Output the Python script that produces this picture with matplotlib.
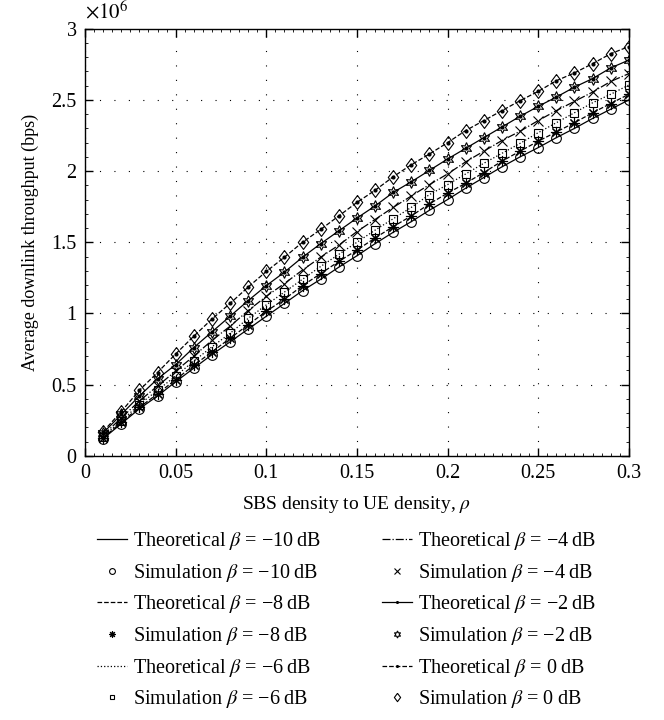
import numpy as np
import matplotlib.pyplot as plt
from matplotlib.ticker import MultipleLocator, FuncFormatter

plt.rcParams['font.family'] = ['Liberation Serif', 'DejaVu Serif']
plt.rcParams['mathtext.fontset'] = 'stix'

# SBS density to UE density
rho = np.array([0.01, 0.02, 0.03, 0.04, 0.05, 0.06, 0.07, 0.08, 0.09, 0.10,
                0.11, 0.12, 0.13, 0.14, 0.15, 0.16, 0.17, 0.18, 0.19, 0.20,
                0.21, 0.22, 0.23, 0.24, 0.25, 0.26, 0.27, 0.28, 0.29, 0.30])

# Average downlink throughput (x 10^6 bps), one series per beta
thr_m10 = [0.12, 0.225, 0.33, 0.42, 0.52, 0.615, 0.71, 0.80, 0.89, 0.98,
           1.07, 1.16, 1.24, 1.325, 1.405, 1.49, 1.57, 1.645, 1.725, 1.80,
           1.88, 1.955, 2.03, 2.10, 2.165, 2.235, 2.30, 2.37, 2.435, 2.50]
thr_m8 = [0.125, 0.235, 0.34, 0.435, 0.535, 0.635, 0.73, 0.825, 0.92, 1.015,
          1.10, 1.195, 1.28, 1.365, 1.445, 1.53, 1.61, 1.685, 1.77, 1.845,
          1.915, 1.99, 2.07, 2.14, 2.21, 2.275, 2.34, 2.41, 2.475, 2.54]
thr_m6 = [0.135, 0.245, 0.36, 0.46, 0.56, 0.665, 0.765, 0.86, 0.965, 1.06,
          1.15, 1.24, 1.33, 1.415, 1.50, 1.585, 1.665, 1.745, 1.835, 1.905,
          1.98, 2.055, 2.125, 2.195, 2.27, 2.34, 2.41, 2.48, 2.54, 2.605]
thr_m4 = [0.145, 0.265, 0.385, 0.49, 0.595, 0.70, 0.81, 0.91, 1.02, 1.12,
          1.21, 1.305, 1.395, 1.48, 1.575, 1.66, 1.745, 1.825, 1.905, 1.98,
          2.065, 2.14, 2.215, 2.28, 2.355, 2.425, 2.49, 2.555, 2.63, 2.685]
thr_m2 = [0.16, 0.29, 0.42, 0.54, 0.64, 0.76, 0.87, 0.98, 1.09, 1.195,
          1.29, 1.395, 1.49, 1.58, 1.67, 1.755, 1.85, 1.925, 2.005, 2.085,
          2.16, 2.235, 2.31, 2.385, 2.455, 2.52, 2.59, 2.65, 2.725, 2.78]
thr_0 = [0.17, 0.31, 0.46, 0.585, 0.715, 0.84, 0.96, 1.07, 1.185, 1.295,
         1.395, 1.50, 1.59, 1.685, 1.78, 1.865, 1.96, 2.045, 2.12, 2.20,
         2.285, 2.355, 2.425, 2.495, 2.56, 2.635, 2.69, 2.755, 2.825, 2.875]

betas = ['-10', '-8', '-6', '-4', '-2', '0']
series = [thr_m10, thr_m8, thr_m6, thr_m4, thr_m2, thr_0]

# diamond a bit wider than matplotlib's thin one
diamond = [(0, 1), (0.75, 0), (0, -1), (-0.75, 0), (0, 1)]

# line style / theory marker / simulation marker for each beta
line_styles = ['-', '--', ':', '-.', '-', '--']
line_marks = [None, None, None, None, '.', '.']
sim_marks = ['o', (8, 2, 0), 's', 'x', (6, 1, 0), diamond]
sim_sizes = [7, 8, 6, 7, 8.5, 10]

fig = plt.figure(figsize=(6.64, 7.2), dpi=100)
ax = fig.add_axes([0.128, 0.367, 0.819, 0.593])

handles = []
for b, y, ls, lm, sm, ss in zip(betas, series, line_styles, line_marks, sim_marks, sim_sizes):
    lab_b = b.replace('-', '\u2212')
    (ln,) = ax.plot(rho, y, color='black', linestyle=ls, linewidth=0.9,
                    marker=lm, markersize=4,
                    label=r'Theoretical $\beta$ = ' + lab_b + '\u2009dB')
    (pt,) = ax.plot(rho, y, color='black', linestyle='none', marker=sm,
                    markersize=ss, markerfacecolor='none', markeredgewidth=0.8,
                    label=r'Simulation $\beta$ = ' + lab_b + '\u2009dB')
    handles += [ln, pt]

ax.set_xlim(0, 0.3)
ax.set_ylim(0, 3)
ax.xaxis.set_major_locator(MultipleLocator(0.05))
ax.xaxis.set_minor_locator(MultipleLocator(0.005))
ax.yaxis.set_major_locator(MultipleLocator(0.5))
ax.yaxis.set_minor_locator(MultipleLocator(0.1))
fmt = FuncFormatter(lambda v, p: '%g' % round(v, 4))
ax.xaxis.set_major_formatter(fmt)
ax.yaxis.set_major_formatter(fmt)
ax.tick_params(which='both', direction='in', top=True, right=True, labelsize=14.5)
ax.tick_params(which='major', length=6, width=1, pad=6)
ax.tick_params(which='minor', length=2.5, width=0.6)
for s in ax.spines.values():
    s.set_linewidth(1.0)
ax.grid(True, which='major', linestyle=(0, (1, 12)), color='black', linewidth=0.8)

ax.text(0.0, 1.012, r'$\times10^{6}$', transform=ax.transAxes,
        fontsize=15, ha='left', va='bottom')
ax.set_xlabel(r'SBS density to UE density, $\rho$', fontsize=14, labelpad=8)
ax.set_ylabel('Average downlink throughput (bps)', fontsize=13, labelpad=9)

fig.legend(handles=handles, loc='upper left', bbox_to_anchor=(0.131, 0.278),
           ncol=2, frameon=False, fontsize=14.5, handlelength=1.5,
           handletextpad=0.3, columnspacing=3.0, labelspacing=0.48,
           markerscale=0.6, borderpad=0)

fig.savefig('out.png', dpi=100)
